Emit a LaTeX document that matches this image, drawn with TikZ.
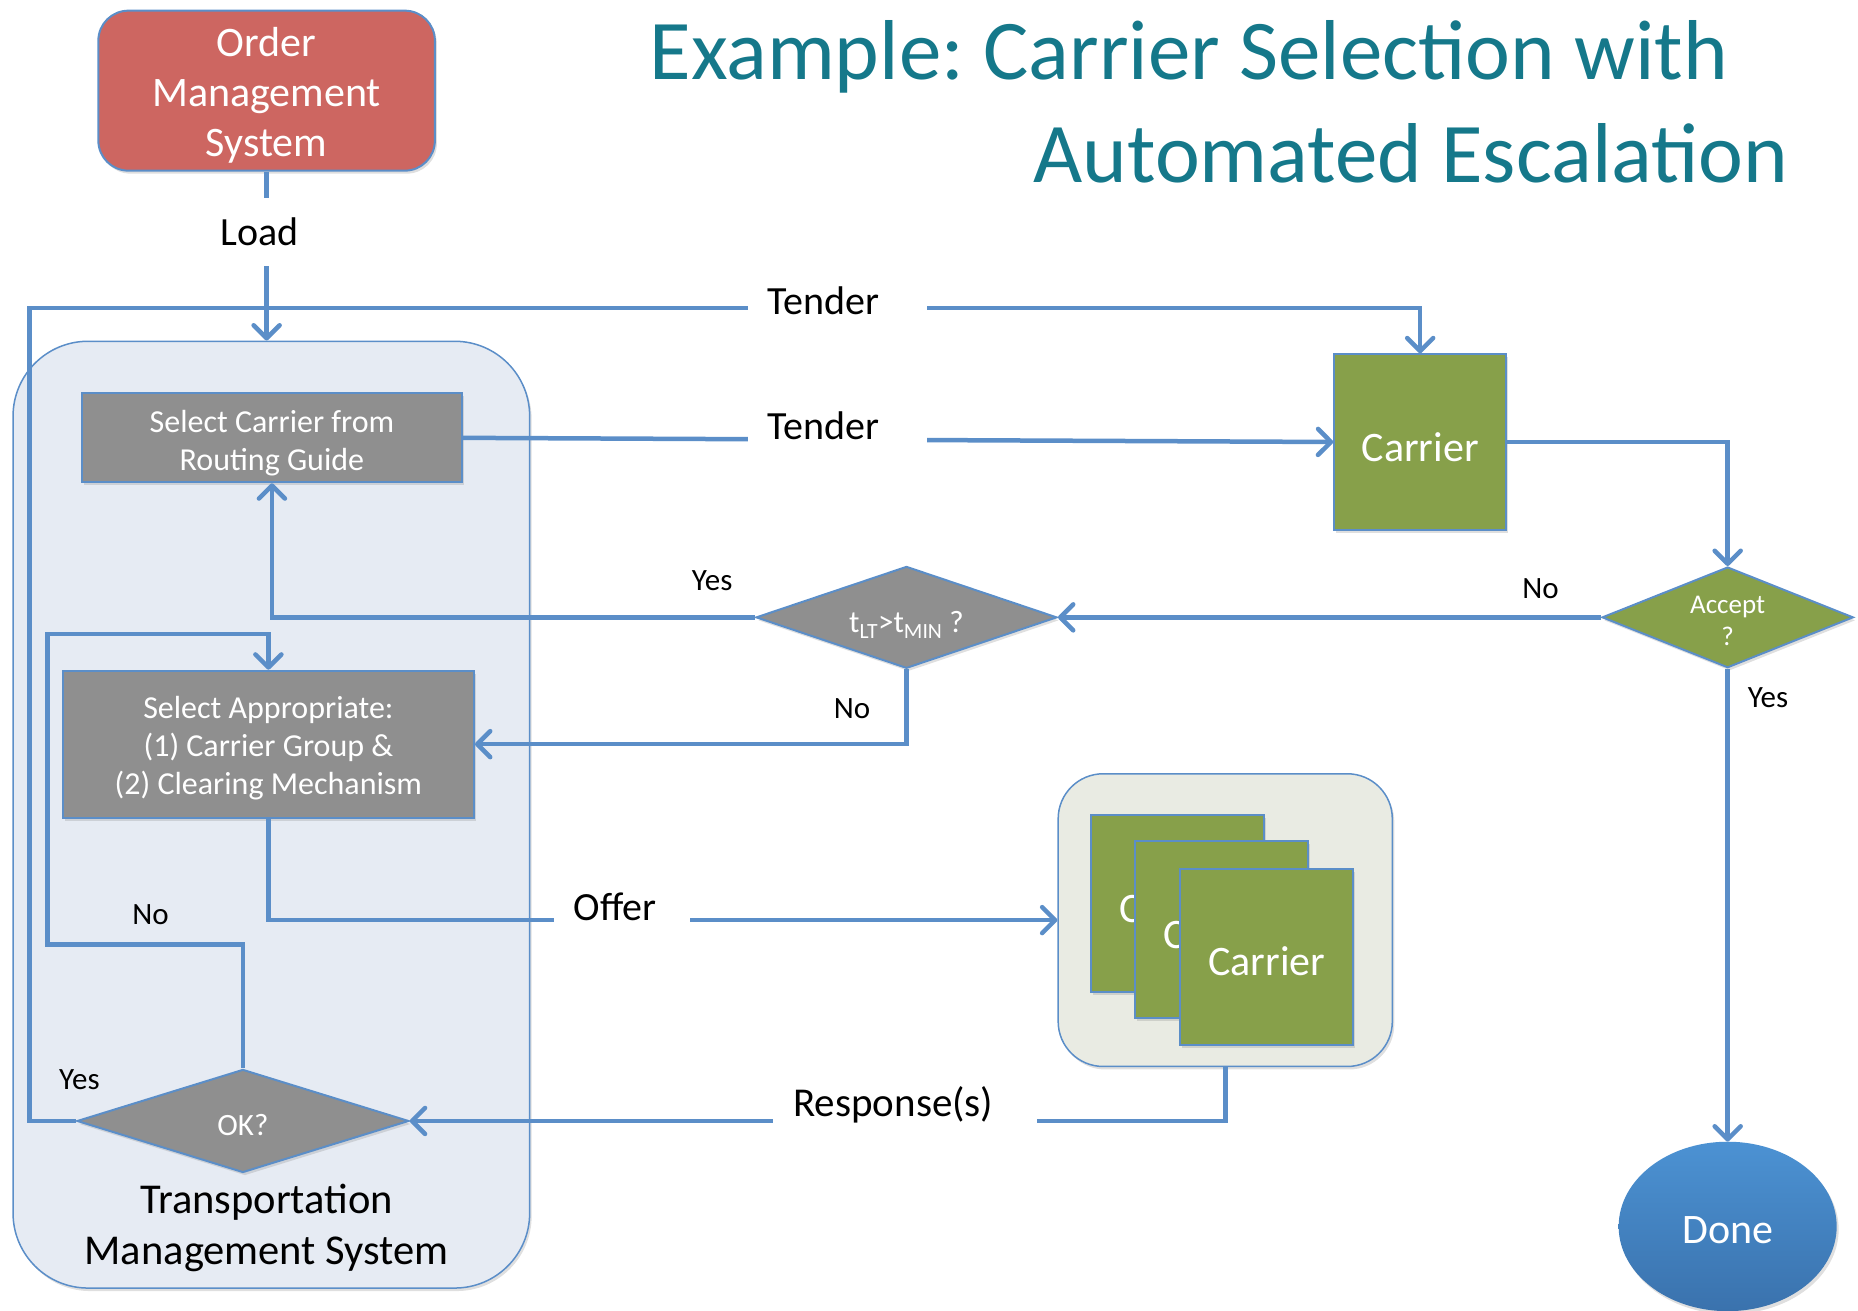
\documentclass[tikz,border=0pt]{standalone}
\usepackage{fontspec}
\setmainfont{Carlito}
\usetikzlibrary{arrows.meta,shapes.geometric,shadows}
\definecolor{lb}{HTML}{5B8EC8}
\definecolor{omsred}{HTML}{CD6661}
\definecolor{boxgray}{HTML}{8F8F8F}
\definecolor{cgreen}{HTML}{87A04A}
\definecolor{tmsbg}{HTML}{E6EBF3}
\definecolor{grpbg}{HTML}{E9EBE3}
\definecolor{ttl}{HTML}{15788A}
\definecolor{donetop}{HTML}{4C92D3}
\definecolor{donebot}{HTML}{3A72AD}
\newcommand\fsz[2]{\fontsize{#1}{#2}\selectfont}
\newcommand\lowr[2]{\raisebox{-#1}[\height][\depth]{\begin{tabular}{@{}c@{}}#2\end{tabular}}}
\frenchspacing
\begin{document}
\begin{tikzpicture}[x=1.18495pt,y=-1.18495pt,
  sz/.style 2 args={minimum width=#1*1.18495pt,minimum height=#2*1.18495pt},
  conn/.style={draw=lb,line width=4.5pt},
  arr/.style={-{Straight Barb[length=13pt,width=26pt,round]}},
  shd/.style={drop shadow={opacity=0.25,shadow xshift=2pt,shadow yshift=-3pt}},
  rbox/.style={rectangle,draw=lb,line width=2pt,inner sep=0pt,align=center,text=white,shd},
  graybox/.style={rbox,fill=boxgray,font=\fsz{32}{38}},
  greenbox/.style={rbox,fill=cgreen,font=\fsz{42}{50}},
  dia/.style={diamond,draw=lb,line width=2pt,inner sep=0pt,align=center,text=white,shd},
  lbl/.style={fill=white,text=black,font=\fsz{40}{48},inner xsep=20pt,inner ysep=10pt,anchor=base west},
  yn/.style={text=black,font=\fsz{31}{37},inner sep=0pt},
]
\useasboundingbox (0,0) rectangle (1568,1106);

% containers
\node[rectangle,sz={436}{799},draw=lb,line width=1.5pt,fill=tmsbg,rounded corners=75pt,inner sep=0pt,shd] (TMS) at (229,687.5) {};
\node[rectangle,sz={282}{247},draw=lb,line width=1.5pt,fill=grpbg,rounded corners=45pt,inner sep=0pt,shd] (GRP) at (1034,776.5) {};

% title
\node[anchor=base west,text=ttl,font=\fsz{85}{100},inner sep=0pt] (T1) at (548,67.5) {Example: Carrier Selection with};
\node[anchor=base west,text=ttl,font=\fsz{85}{100},inner sep=0pt] (T2) at (872,153.6) {Automated Escalation};

% nodes
\node[rbox,fill=omsred,rounded corners=30pt,font=\fsz{42}{50},sz={284}{135}] (OMS) at (225,76.5) {\lowr{6pt}{Order\\Management\\System}};
\node[graybox,sz={321}{75}] (SC) at (229.5,369.5) {\lowr{6pt}{Select Carrier from\\Routing Guide}};
\node[graybox,sz={347}{124}] (SA) at (226.5,628) {\lowr{5pt}{Select Appropriate:\\(1) Carrier Group \&\\(2) Clearing Mechanism}};
\node[greenbox,sz={145}{148}] (CAR) at (1198.5,373) {\lowr{10pt}{Carrier}};
\node[greenbox,sz={146}{149}] (C1) at (994,762.5) {\lowr{9pt}{Carrier}};
\node[greenbox,sz={146}{149}] (C2) at (1031,784.5) {\lowr{9pt}{Carrier}};
\node[greenbox,sz={146}{149}] (C3) at (1069,807.5) {\lowr{9pt}{Carrier}};
\node[dia,fill=cgreen,sz={212}{85},shape aspect=2.5,font=\fsz{27}{32}] (ACC) at (1458,521) {\lowr{6pt}{Accept\\?}};
\node[dia,fill=boxgray,sz={254}{86},shape aspect=2.95,font=\fsz{31}{37}] (TLT) at (765,521) {\lowr{8pt}{t\textsubscript{LT}>t\textsubscript{MIN} ?}};
\node[dia,fill=boxgray,sz={280}{87},shape aspect=3.2,font=\fsz{31}{37}] (OK) at (205,946) {\lowr{7pt}{OK?}};
\node[ellipse,top color=donetop,bottom color=donebot,draw=none,sz={184}{143},text=white,font=\fsz{42}{50},shd] (DONE) at (1458,1035) {\lowr{7pt}{Done}};
\node[font=\fsz{42.5}{51},text=black,align=center] (TMSL) at (225,1036) {Transportation\\Management System};

% helper coordinates
\coordinate (yA) at (25,260);
\coordinate (nA) at (40,797);
\coordinate (nB) at (40,535);

% connectors
\draw[conn,arr] (OK.west) -| (yA) -| (CAR.north);
\draw[conn,arr] (OMS.south) -- (OMS.south |- TMS.north);
\draw[conn,arr] (SC.east) -- (CAR.west);
\draw[conn,arr] (CAR.east) -| (ACC.north);
\draw[conn,arr] (ACC.west) -- (TLT.east);
\draw[conn,arr] (ACC.south) -- (DONE.north);
\draw[conn,arr] (TLT.west) -| (SC.south);
\draw[conn,arr] (TLT.south) |- (SA.east);
\draw[conn,arr] (SA.south) |- (GRP.west);
\draw[conn,arr] (GRP.south) |- (OK.east);
\draw[conn,arr] (OK.north) |- (nA) -- (nB) -| (SA.north);

% connector labels
\node[lbl,anchor=base,inner xsep=8pt,inner ysep=20pt] (Lload) at (219,207) {Load};
\node[lbl] (Lt1) at (631,265.8) {Tender\hspace*{27pt}};
\node[lbl] (Lt2) at (631,371.3) {Tender\hspace*{27pt}};
\node[lbl] (Loff) at (467,776.6) {Offer\hspace*{14pt}};
\node[lbl,font=\fsz{41}{48}] (Lresp) at (652.5,942.5) {Response(s)\hspace*{24pt}};

\node[yn] (y1) at (601,490) {Yes};
\node[yn] (n1) at (719,598) {No};
\node[yn] (n2) at (1300,497) {No};
\node[yn] (y2) at (1492,589) {Yes};
\node[yn] (n3) at (127,772) {No};
\node[yn] (y3) at (67,911) {Yes};
\end{tikzpicture}
\end{document}
